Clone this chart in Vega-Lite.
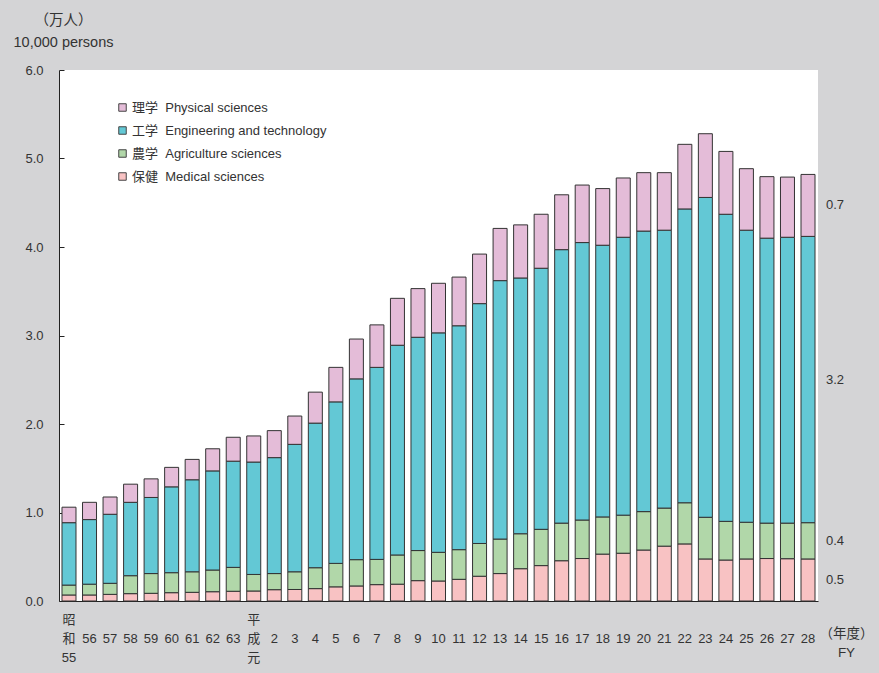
{
  "$schema": "https://vega.github.io/schema/vega-lite/v6.json",
  "width": 759,
  "height": 531,
  "autosize": {"type": "none"},
  "padding": {"left": 59, "top": 70, "right": 61, "bottom": 72},
  "background": "#d4d4d6",
  "config": {
    "view": {"fill": "white", "stroke": null},
    "font": "Liberation Sans, Noto Sans CJK JP, sans-serif",
    "axis": {"labelFont": "Liberation Sans, Noto Sans CJK JP, sans-serif", "titleFont": "Liberation Sans, Noto Sans CJK JP, sans-serif"}
  },
  "data": {
    "values": [
      {"yr": "昭和55", "med": 0.068, "agri": 0.112, "eng": 0.705, "phys": 0.175},
      {"yr": "56", "med": 0.068, "agri": 0.122, "eng": 0.73, "phys": 0.195},
      {"yr": "57", "med": 0.075, "agri": 0.125, "eng": 0.78, "phys": 0.195},
      {"yr": "58", "med": 0.083, "agri": 0.203, "eng": 0.829, "phys": 0.205},
      {"yr": "59", "med": 0.087, "agri": 0.223, "eng": 0.86, "phys": 0.21},
      {"yr": "60", "med": 0.094, "agri": 0.226, "eng": 0.97, "phys": 0.22},
      {"yr": "61", "med": 0.098, "agri": 0.232, "eng": 1.04, "phys": 0.23},
      {"yr": "62", "med": 0.105, "agri": 0.245, "eng": 1.12, "phys": 0.25},
      {"yr": "63", "med": 0.11, "agri": 0.27, "eng": 1.2, "phys": 0.27},
      {"yr": "平成元", "med": 0.113, "agri": 0.187, "eng": 1.27, "phys": 0.295},
      {"yr": "2", "med": 0.128, "agri": 0.182, "eng": 1.31, "phys": 0.305},
      {"yr": "3", "med": 0.13, "agri": 0.2, "eng": 1.44, "phys": 0.32},
      {"yr": "4", "med": 0.14, "agri": 0.236, "eng": 1.634, "phys": 0.35},
      {"yr": "5", "med": 0.16, "agri": 0.265, "eng": 1.825, "phys": 0.39},
      {"yr": "6", "med": 0.17, "agri": 0.297, "eng": 2.043, "phys": 0.45},
      {"yr": "7", "med": 0.185, "agri": 0.285, "eng": 2.17, "phys": 0.48},
      {"yr": "8", "med": 0.19, "agri": 0.33, "eng": 2.37, "phys": 0.53},
      {"yr": "9", "med": 0.23, "agri": 0.34, "eng": 2.41, "phys": 0.55},
      {"yr": "10", "med": 0.226, "agri": 0.324, "eng": 2.48, "phys": 0.56},
      {"yr": "11", "med": 0.245, "agri": 0.335, "eng": 2.53, "phys": 0.55},
      {"yr": "12", "med": 0.28, "agri": 0.37, "eng": 2.71, "phys": 0.56},
      {"yr": "13", "med": 0.31, "agri": 0.39, "eng": 2.92, "phys": 0.59},
      {"yr": "14", "med": 0.365, "agri": 0.395, "eng": 2.89, "phys": 0.6},
      {"yr": "15", "med": 0.4, "agri": 0.41, "eng": 2.95, "phys": 0.61},
      {"yr": "16", "med": 0.455, "agri": 0.425, "eng": 3.09, "phys": 0.62},
      {"yr": "17", "med": 0.48, "agri": 0.435, "eng": 3.135, "phys": 0.65},
      {"yr": "18", "med": 0.53, "agri": 0.42, "eng": 3.07, "phys": 0.64},
      {"yr": "19", "med": 0.54, "agri": 0.43, "eng": 3.14, "phys": 0.67},
      {"yr": "20", "med": 0.576, "agri": 0.434, "eng": 3.17, "phys": 0.66},
      {"yr": "21", "med": 0.62, "agri": 0.43, "eng": 3.14, "phys": 0.65},
      {"yr": "22", "med": 0.645, "agri": 0.465, "eng": 3.32, "phys": 0.73},
      {"yr": "23", "med": 0.475, "agri": 0.471, "eng": 3.614, "phys": 0.72},
      {"yr": "24", "med": 0.463, "agri": 0.437, "eng": 3.47, "phys": 0.71},
      {"yr": "25", "med": 0.475, "agri": 0.415, "eng": 3.3, "phys": 0.695},
      {"yr": "26", "med": 0.48, "agri": 0.4, "eng": 3.22, "phys": 0.695},
      {"yr": "27", "med": 0.478, "agri": 0.402, "eng": 3.23, "phys": 0.68},
      {"yr": "28", "med": 0.475, "agri": 0.41, "eng": 3.235, "phys": 0.7}
    ]
  },
  "transform": [
    {"fold": ["med", "agri", "eng", "phys"], "as": ["key", "value"]},
    {"calculate": "indexof(['med','agri','eng','phys'], datum.key)", "as": "ord"},
    {"calculate": "datum.key == 'med' ? '保健\u00a0\u00a0Medical sciences' : datum.key == 'agri' ? '農学\u00a0\u00a0Agriculture sciences' : datum.key == 'eng' ? '工学\u00a0\u00a0Engineering and technology' : '理学\u00a0\u00a0Physical sciences'", "as": "cat"}
  ],
  "layer": [
    {
      "mark": {"type": "bar", "stroke": "#333333", "strokeWidth": 1},
      "encoding": {
        "x": {
          "field": "yr",
          "type": "nominal",
          "scale": {
            "domain": ["昭和55","56","57","58","59","60","61","62","63","平成元","2","3","4","5","6","7","8","9","10","11","12","13","14","15","16","17","18","19","20","21","22","23","24","25","26","27","28"],
            "paddingInner": 0.318,
            "paddingOuter": 0.146
          },
          "axis": {
            "title": ["（年度）", "FY"],
            "titleX": 787,
            "titleY": 25,
            "titleAlign": "center",
            "titleBaseline": "top",
            "titleFontSize": 13.5,
            "titleFontWeight": "normal",
            "titleColor": "#333333",
            "titleLineHeight": 19,
            "labelAngle": 0,
            "labelFontSize": 13,
            "labelColor": "#333333",
            "labelBaseline": "middle",
            "labelPadding": 18,
            "labelLineHeight": 19,
            "labelExpr": "datum.value == '昭和55' ? ['昭','和','55'] : datum.value == '平成元' ? ['平','成','元'] : ['', datum.value]",
            "ticks": false,
            "domainColor": "#222222",
            "domainWidth": 1
          }
        },
        "y": {
          "field": "value",
          "type": "quantitative",
          "stack": "zero",
          "scale": {"domain": [0, 6]},
          "axis": {
            "values": [0, 1, 2, 3, 4, 5, 6],
            "format": ".1f",
            "grid": false,
            "title": ["（万人）", "10,000 persons"],
            "titleAngle": 0,
            "titleX": 4,
            "titleY": -57,
            "titleAlign": "center",
            "titleBaseline": "top",
            "titleFontSize": 14.5,
            "titleFontWeight": "normal",
            "titleColor": "#333333",
            "titleLineHeight": 22,
            "labelFontSize": 13,
            "labelColor": "#333333",
            "tickSize": -5,
            "tickColor": "#222222",
            "labelPadding": 21,
            "domainColor": "#222222"
          }
        },
        "color": {
          "field": "cat",
          "type": "nominal",
          "scale": {
            "domain": ["理学\u00a0\u00a0Physical sciences", "工学\u00a0\u00a0Engineering and technology", "農学\u00a0\u00a0Agriculture sciences", "保健\u00a0\u00a0Medical sciences"],
            "range": ["#e4bcd8", "#63c8d5", "#b1d7a9", "#f8c2c3"]
          },
          "legend": {
            "orient": "none",
            "legendX": 57,
            "legendY": 31,
            "title": null,
            "padding": 0,
            "symbolType": "square",
            "symbolSize": 56,
            "symbolStrokeColor": "#444444",
            "symbolStrokeWidth": 1,
            "labelFontSize": 13,
            "labelColor": "#333333",
            "labelOffset": 3,
            "labelLimit": 400,
            "rowPadding": 9
          }
        },
        "order": {"field": "ord", "type": "quantitative"}
      }
    },
    {
      "transform": [
        {"filter": "datum.yr == '28'"},
        {"stack": "value", "groupby": ["yr"], "sort": [{"field": "ord"}], "as": ["s0", "s1"]},
        {"calculate": "(datum.s0 + datum.s1) / 2", "as": "mid"}
      ],
      "mark": {"type": "text", "align": "left", "dx": 18, "fontSize": 13, "color": "#333333", "baseline": "middle"},
      "encoding": {
        "x": {"field": "yr", "type": "nominal"},
        "y": {"field": "mid", "type": "quantitative"},
        "text": {"field": "value", "type": "quantitative", "format": ".1f"}
      }
    }
  ]
}
